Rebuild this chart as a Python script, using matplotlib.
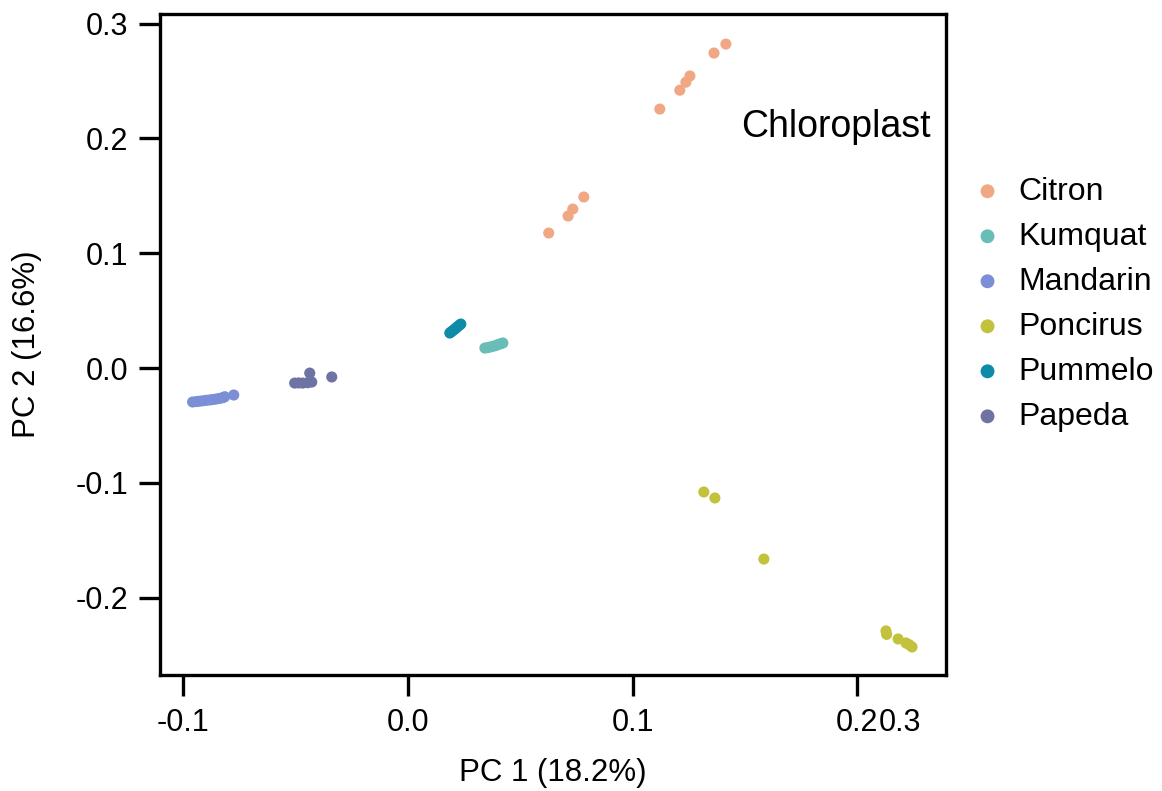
import matplotlib
matplotlib.use("Agg")
import matplotlib.pyplot as plt

plt.rcParams['font.family'] = ['Liberation Sans', 'DejaVu Sans']

groups = ["Citron", "Kumquat", "Mandarin", "Poncirus", "Pummelo", "Papeda"]
colors = ["#F0A784", "#68BDB6", "#7B8ED6", "#C2C23C", "#0E8BA6", "#6E73A3"]

citron_x = [0.0627, 0.0713, 0.0734, 0.0783, 0.1121, 0.1210, 0.1237, 0.1255, 0.1362, 0.1415]
citron_y = [0.1176, 0.1324, 0.1385, 0.1490, 0.2256, 0.2420, 0.2490, 0.2544, 0.2744, 0.2822]
kumquat_x = [0.0343, 0.0355, 0.0366, 0.0378, 0.0390, 0.0400, 0.0412, 0.0423]
kumquat_y = [0.0174, 0.0178, 0.0183, 0.0189, 0.0195, 0.0203, 0.0211, 0.0218]
mandarin_x = [-0.0957, -0.0940, -0.0925, -0.0910, -0.0895, -0.0880, -0.0865, -0.0850, -0.0835, -0.0822, -0.0814, -0.0774]
mandarin_y = [-0.0296, -0.0292, -0.0289, -0.0285, -0.0281, -0.0278, -0.0274, -0.0269, -0.0264, -0.0258, -0.0250, -0.0235]
poncirus_x = [0.1317, 0.1366, 0.1584, 0.2127, 0.2130, 0.2181, 0.2216, 0.2230, 0.2243]
poncirus_y = [-0.1080, -0.1132, -0.1664, -0.2290, -0.2320, -0.2360, -0.2395, -0.2410, -0.2430]
pummelo_x = [0.0187, 0.0193, 0.0200, 0.0207, 0.0214, 0.0221, 0.0229, 0.0236]
pummelo_y = [0.0305, 0.0315, 0.0325, 0.0336, 0.0347, 0.0360, 0.0372, 0.0383]
papeda_x = [-0.0503, -0.0485, -0.0467, -0.0445, -0.0427, -0.0436, -0.0338]
papeda_y = [-0.0131, -0.0130, -0.0131, -0.0128, -0.0122, -0.0044, -0.0078]

xs = [citron_x, kumquat_x, mandarin_x, poncirus_x, pummelo_x, papeda_x]
ys = [citron_y, kumquat_y, mandarin_y, poncirus_y, pummelo_y, papeda_y]

x_ticks = [-0.1, 0.0, 0.1, 0.2]
x_ticklabels = ["-0.1", "0.0", "0.1", "0.2"]
extra_x_label = "0.3"
y_ticks = [-0.2, -0.1, 0.0, 0.1, 0.2, 0.3]
y_ticklabels = ["-0.2", "-0.1", "0.0", "0.1", "0.2", "0.3"]

fig = plt.figure(figsize=(11.62, 7.91), dpi=100)
ax = fig.add_axes([160/1162, 1 - 675/791, (946-160)/1162, (675-14)/791])

for g, c, x, y in zip(groups, colors, xs, ys):
    ax.scatter(x, y, s=64, color=c, edgecolors='none', label=g, zorder=3)

ax.set_xlim(-0.1102, 0.2394)
ax.set_ylim(-0.2674, 0.3084)
ax.set_xticks(x_ticks)
ax.set_xticklabels(x_ticklabels)
ax.set_yticks(y_ticks)
ax.set_yticklabels(y_ticklabels)
ax.tick_params(axis='both', length=15, width=2.4, labelsize=22)
ax.tick_params(axis='y', pad=8)
ax.tick_params(axis='x', pad=9)
for sp in ax.spines.values():
    sp.set_linewidth(2.4)

# extra "0.3" label placed right after the 0.2 tick label, as in the reference
last_label = ax.get_xticklabels()[-1]
ax.annotate(extra_x_label, xy=(1.0, 0.0), xycoords=last_label, fontsize=22,
            ha='left', va='bottom', annotation_clip=False)

ax.set_xlabel("PC 1 (18.2%)", fontsize=22.5, labelpad=14)
ax.set_ylabel("PC 2 (16.6%)", fontsize=22.5, labelpad=24)

ax.text(0.98, 0.829, "Chloroplast", transform=ax.transAxes, fontsize=27,
        ha='right', va='center')

leg = ax.legend(loc='center left', bbox_to_anchor=(1.0, 0.561), frameon=False,
                fontsize=23, handlelength=1.0, handletextpad=0.45,
                labelspacing=0.47, markerscale=1.25, borderaxespad=0.4)

fig.savefig("out.png", dpi=100)
